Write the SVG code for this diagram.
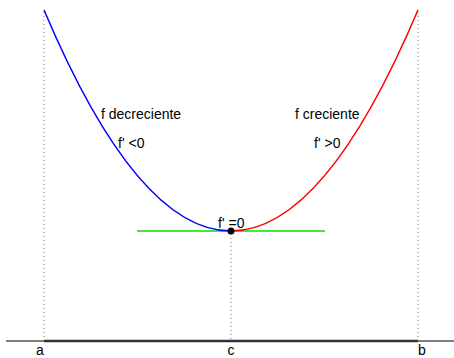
<svg xmlns="http://www.w3.org/2000/svg" width="454" height="358" viewBox="0 0 454 358">
<style>
text{font-family:"Liberation Sans",Arial,sans-serif;font-size:14px;fill:#000}
.dot{stroke:#777;stroke-width:1;stroke-dasharray:1 3;fill:none}
</style>
<rect width="454" height="358" fill="#fff"/>
<g id="guides">
<line class="dot" x1="44" y1="12" x2="44" y2="340"/>
<line class="dot" x1="231" y1="234" x2="231" y2="340"/>
<line class="dot" x1="418" y1="12" x2="418" y2="340"/>
</g>
<g id="axis">
<line x1="6" y1="341" x2="454" y2="341" stroke="#000" stroke-width="1"/>
<line x1="44" y1="341" x2="418" y2="341" stroke="#333" stroke-width="2.5"/>
<text x="40" y="355" text-anchor="middle">a</text>
<text x="231" y="355" text-anchor="middle">c</text>
<text x="422" y="355" text-anchor="middle">b</text>
</g>
<g id="curve">
<line x1="137" y1="231" x2="325" y2="231" stroke="#00e000" stroke-width="1.5"/>
<path d="M44,10 Q137.5,231 231,231" fill="none" stroke="#0000ff" stroke-width="1.5"/>
<path d="M231,231 Q324.5,231 418,10" fill="none" stroke="#ff0000" stroke-width="1.5"/>
<circle cx="231" cy="231" r="3.5" fill="#000"/>
</g>
<g id="labels">
<text x="101" y="119">f decreciente</text>
<text x="118" y="148">f' &lt;0</text>
<text x="295" y="119">f creciente</text>
<text x="314" y="148">f' &gt;0</text>
<text x="218" y="228">f' =0</text>
</g>
</svg>
